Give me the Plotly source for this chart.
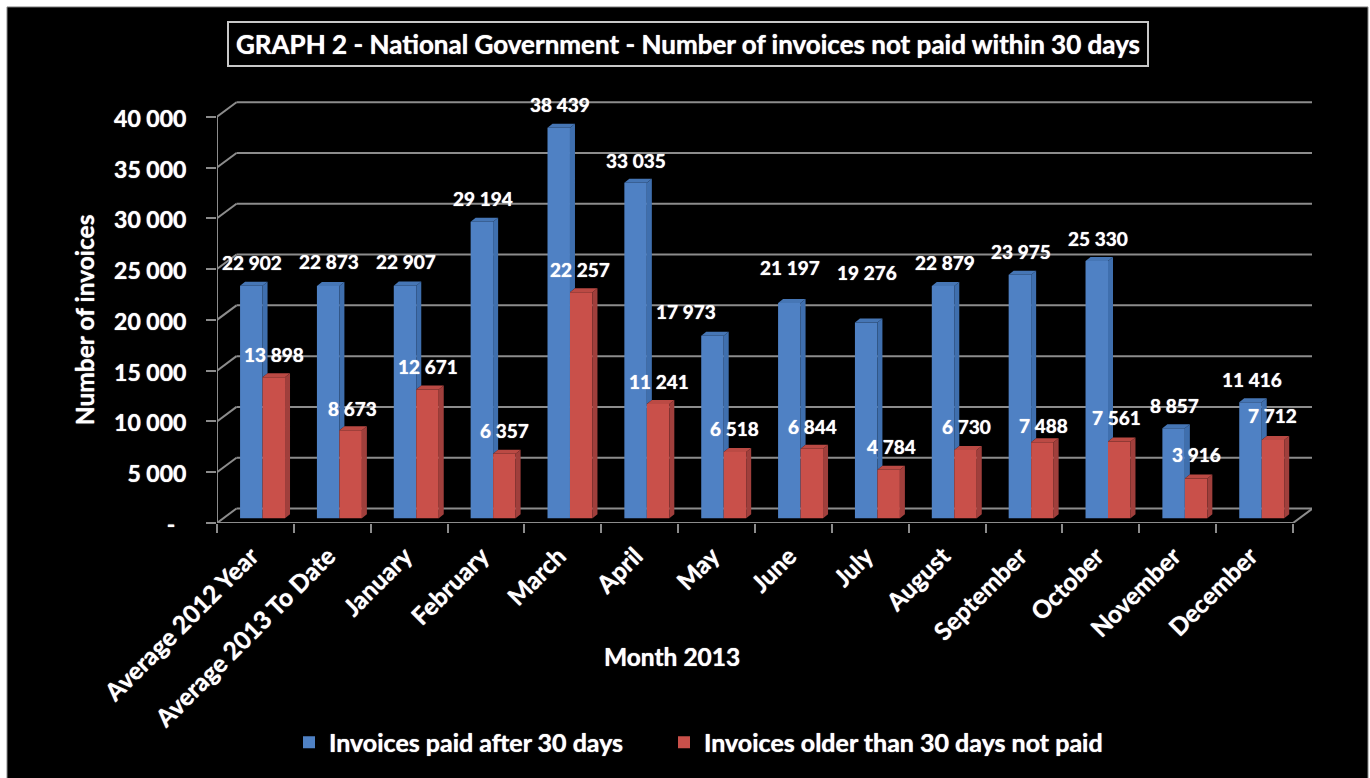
import plotly.graph_objects as go

# ---- chart data ----
categories = ["Average 2012 Year", "Average 2013 To Date", "January", "February",
              "March", "April", "May", "June", "July", "August", "September",
              "October", "November", "December"]
paid_late = [22902, 22873, 22907, 29194, 38439, 33035, 17973, 21197, 19276,
             22879, 23975, 25330, 8857, 11416]
unpaid_old = [13898, 8673, 12671, 6357, 22257, 11241, 6518, 6844, 4784,
              6730, 7488, 7561, 3916, 7712]
y_ticks = [0, 5000, 10000, 15000, 20000, 25000, 30000, 35000, 40000]
y_tick_text = ["-\u00a0\u00a0", "5 000", "10 000", "15 000", "20 000",
               "25 000", "30 000", "35 000", "40 000"]

# label nudges in pixels (dx, dy up from the default spot above each bar)
paid_nudge_x = [1, 1, 1, 1, 1, 0, -26, 1, 1, 2, 1, 1, 1, 2]
paid_nudge_y = [23, 24, 24, 23, 23, 22, 24, 35, 50, 23, 23, 23, 23, 23]
unpaid_nudge_x = [0, 2, 0, 0, -1, 1, 0, 1, 3, 1, 1, -3, 0, 0]
unpaid_nudge_y = [23, 22, 23, 23, 23, 23, 24, 22, 23, 23, 17, 24, 24, 24]

# ---- canvas geometry ----
W, H = 1370, 778
PLOT_L, PLOT_R, PLOT_T, PLOT_B = 217, 1312, 100, 522.7
CAT_PX = 76.86                # one category slot, in pixels
UNIT_PX = 406 / 40000         # pixels per invoice on the front plane
x_of = lambda px: px / CAT_PX
y_of = lambda px: px / UNIT_PX

WALL_DX, WALL_DY = x_of(19.5), y_of(14.5)     # floor depth of the pseudo-3D box
BAR_LIFT = y_of(4.7)          # bars stand slightly inside the floor
BAR_DX, BAR_DY = x_of(5), y_of(4)             # depth of each column
BAR_START = 0.30
BAR_W = 0.2925

BLUE, BLUE_SIDE, BLUE_TOP = "#4f81c4", "#3f6fae", "#4676b5"
RED, RED_SIDE, RED_TOP = "#c9504a", "#a03f3c", "#bb4a44"
GRID = "#8c8c8c"
FONT = "Lato"


def fmt(v):
    return f"{v:,}".replace(",", " ")


def polygons(rings):
    xs, ys = [], []
    for ring in rings:
        xs += [p[0] for p in ring] + [ring[0][0], None]
        ys += [p[1] for p in ring] + [ring[0][1], None]
    return xs, ys


def face_trace(rings, color):
    xs, ys = polygons(rings)
    return go.Scatter(x=xs, y=ys, mode="lines", fill="toself", fillcolor=color,
                      line=dict(width=0, color=color), hoverinfo="skip",
                      showlegend=False)


fig = go.Figure()
idx = list(range(len(categories)))

# front faces
fig.add_bar(x=idx, y=paid_late, base=BAR_LIFT, offset=BAR_START, width=BAR_W,
            marker=dict(color=BLUE, line=dict(width=0)),
            name="Invoices paid after 30 days", legend="legend")
fig.add_bar(x=idx, y=unpaid_old, base=BAR_LIFT, offset=BAR_START + BAR_W, width=BAR_W,
            marker=dict(color=RED, line=dict(width=0)),
            name="Invoices older than 30 days not paid", legend="legend2")

# side and top faces; the blue side only shows above the red neighbour
blue_side, blue_top, red_side, red_top = [], [], [], []
for i, (b, r) in enumerate(zip(paid_late, unpaid_old)):
    x0 = i + BAR_START
    x1 = x0 + BAR_W
    x2 = x1 + BAR_W
    bt, rt = b + BAR_LIFT, r + BAR_LIFT
    blue_side.append([(x1, rt), (x1, bt), (x1 + BAR_DX, bt + BAR_DY), (x1 + BAR_DX, rt + BAR_DY)])
    blue_top.append([(x0, bt), (x1, bt), (x1 + BAR_DX, bt + BAR_DY), (x0 + BAR_DX, bt + BAR_DY)])
    red_side.append([(x2, BAR_LIFT), (x2, rt), (x2 + BAR_DX, rt + BAR_DY), (x2 + BAR_DX, BAR_LIFT + BAR_DY)])
    red_top.append([(x1, rt), (x2, rt), (x2 + BAR_DX, rt + BAR_DY), (x1 + BAR_DX, rt + BAR_DY)])
fig.add_trace(face_trace(blue_side, BLUE_SIDE))
fig.add_trace(face_trace(blue_top, BLUE_TOP))
fig.add_trace(face_trace(red_side, RED_SIDE))
fig.add_trace(face_trace(red_top, RED_TOP))

# box walls and floor sit underneath the bars
n = len(categories)
shapes = []


def seg(x0, y0, x1, y1, color=GRID, width=2):
    shapes.append(dict(type="line", layer="below", xref="x", yref="y",
                       x0=x0, y0=y0, x1=x1, y1=y1, line=dict(color=color, width=width)))


for t in y_ticks:
    seg(0, t, WALL_DX, t + WALL_DY)
    seg(WALL_DX, t + WALL_DY, n + WALL_DX, t + WALL_DY)
seg(0, 0, 0, y_ticks[-1])
seg(0, 0, n, 0)
seg(n, 0, n + WALL_DX, WALL_DY)


def paper_x(px):
    return (px - PLOT_L) / (PLOT_R - PLOT_L)


def paper_y(px):
    return (PLOT_B - px) / (PLOT_B - PLOT_T)


# page frame: pale strip along the top and sides, black everywhere else
shapes.insert(0, dict(type="rect", layer="below", xref="paper", yref="paper",
                      x0=paper_x(7), x1=paper_x(1368), y0=paper_y(7), y1=paper_y(H + 5),
                      fillcolor="#000000", line=dict(color="#8a8a8a", width=1)))


def label_font(size):
    # the faint glow gives the text a heavier stroke
    return dict(family=FONT, size=size, color="white", weight=700, shadow="0 0 1px #ffffff")


annotations = []
for i, (v, nx, ny) in enumerate(zip(paid_late, paid_nudge_x, paid_nudge_y)):
    annotations.append(dict(x=i + BAR_START + BAR_W / 2, y=v + BAR_LIFT, xref="x", yref="y",
                            text=fmt(v), showarrow=False, xshift=nx, yshift=ny,
                            font=label_font(19)))
for i, (v, nx, ny) in enumerate(zip(unpaid_old, unpaid_nudge_x, unpaid_nudge_y)):
    annotations.append(dict(x=i + BAR_START + 1.5 * BAR_W, y=v + BAR_LIFT, xref="x", yref="y",
                            text=fmt(v), showarrow=False, xshift=nx, yshift=ny,
                            font=label_font(19)))

# chart title in its outlined box
annotations.append(dict(xref="paper", yref="paper", x=paper_x(688), y=paper_y(44),
                        xanchor="center", yanchor="middle",
                        text="GRAPH 2 - National Government - Number of invoices not paid within 30 days",
                        showarrow=False, width=916, height=40, borderwidth=2, bordercolor="#c8c8c8",
                        font=label_font(26)))
annotations.append(dict(xref="paper", yref="paper", x=paper_x(84), y=paper_y(320),
                        xanchor="center", yanchor="middle",
                        text="Number of invoices", textangle=-90, showarrow=False,
                        font=label_font(24.5)))
annotations.append(dict(xref="paper", yref="paper", x=paper_x(672), y=paper_y(656),
                        xanchor="center", yanchor="middle",
                        text="Month 2013", showarrow=False,
                        font=label_font(24.5)))

legend_common = dict(orientation="h", xref="paper", yref="paper", yanchor="middle",
                     xanchor="left", y=paper_y(742), bgcolor="rgba(0,0,0,0)",
                     itemclick=False, itemdoubleclick=False, font=label_font(25))

fig.update_layout(
    width=W, height=H,
    margin=dict(l=PLOT_L, r=W - PLOT_R, t=PLOT_T, b=H - PLOT_B, pad=0, autoexpand=False),
    paper_bgcolor="#ffffff", plot_bgcolor="rgba(0,0,0,0)",
    barmode="overlay", shapes=shapes, annotations=annotations,
    showlegend=True,
    legend=dict(x=paper_x(289), **legend_common),
    legend2=dict(x=paper_x(664), **legend_common),
    xaxis=dict(range=[0, x_of(PLOT_R - PLOT_L)], showgrid=False, zeroline=False, showline=False,
               tickmode="array", tickvals=[i + 0.5 for i in idx], ticktext=categories,
               tickangle=-45, ticks="", ticklen=0, ticklabelstandoff=13, ticklabelshift=-4,
               tickfont=label_font(24.5),
               minor=dict(tickmode="array", tickvals=list(range(n + 1)), ticks="outside",
                          ticklen=9, tickwidth=2, tickcolor=GRID, showgrid=False)),
    yaxis=dict(range=[0, y_of(PLOT_B - PLOT_T)], showgrid=False, zeroline=False, showline=False,
               tickmode="array", tickvals=y_ticks, ticktext=y_tick_text,
               ticks="outside", ticklen=10, tickwidth=2, tickcolor=GRID,
               ticklabelstandoff=15, ticklabelshift=2,
               tickfont=label_font(23)),
)

fig.write_html("out.html")
